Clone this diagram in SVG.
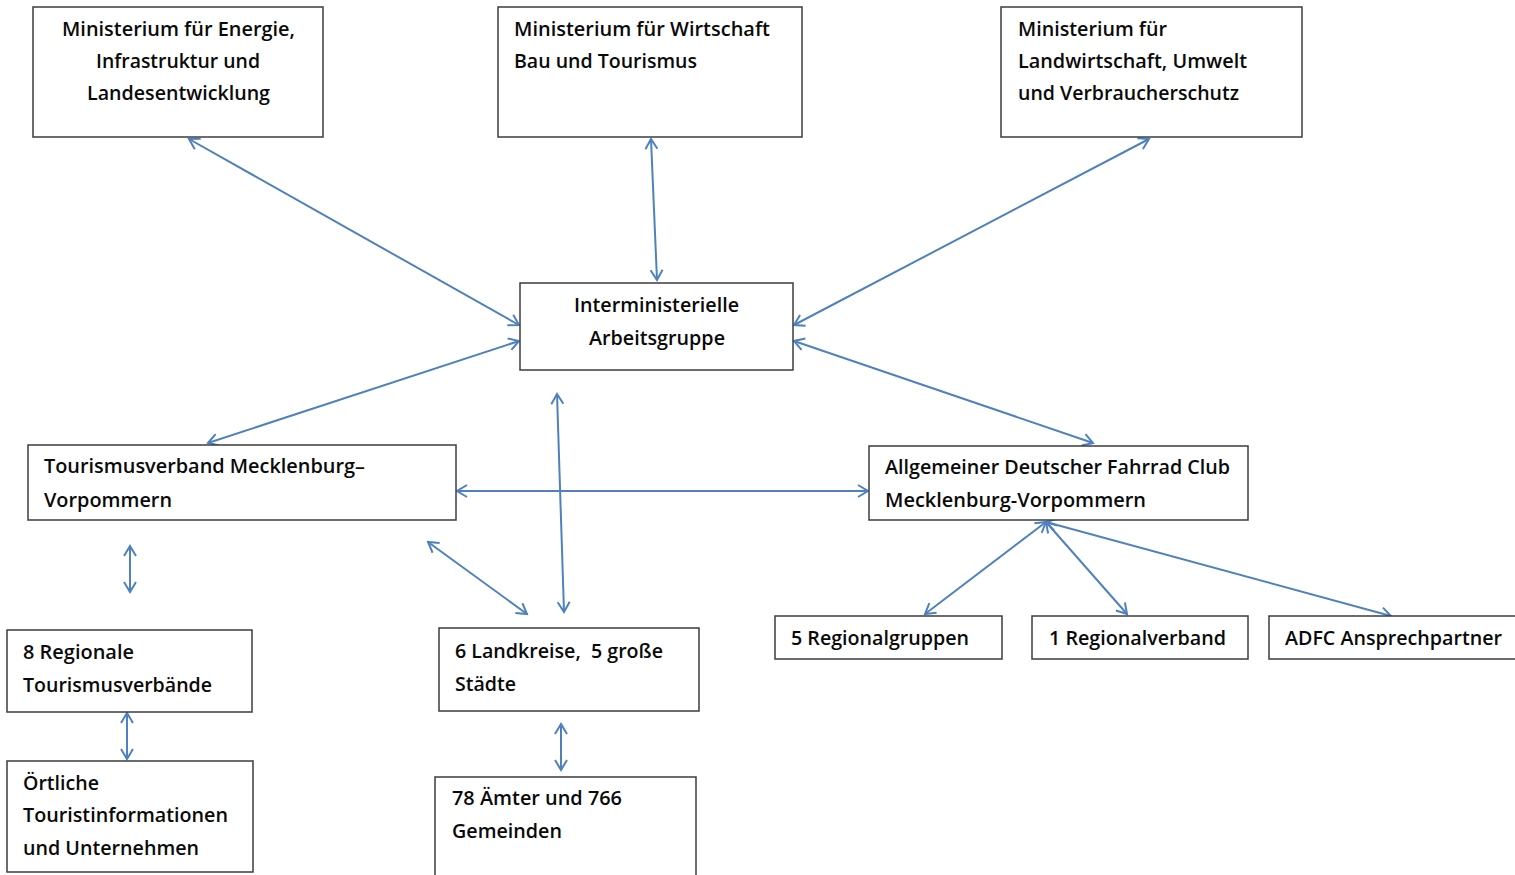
<svg xmlns="http://www.w3.org/2000/svg" width="1515" height="875" viewBox="0 0 1515 875">
<style>
.box{fill:#fff;stroke:#3c3c3c;stroke-width:1.5}
.t{font-family:"Open Sans","Liberation Sans",sans-serif;font-weight:600;font-size:19.5px;fill:#0a0a0a;white-space:pre}
.c{stroke:#4F81BD;stroke-width:2;fill:none;marker-start:url(#a);marker-end:url(#a)}
</style>
<defs>
<marker id="a" viewBox="-12 -8 14 16" markerWidth="14" markerHeight="16" refX="0" refY="0" orient="auto-start-reverse" markerUnits="userSpaceOnUse">
<path d="M-10,-6 L0,0 L-10,6" fill="none" stroke="#4F81BD" stroke-width="2"/>
</marker>
</defs>
<rect width="1515" height="875" fill="#fff"/>
<g id="connectors">
<line class="c" x1="189" y1="139" x2="519" y2="325"/>
<line class="c" x1="651" y1="139" x2="657" y2="280"/>
<line class="c" x1="1149" y1="139" x2="794" y2="325"/>
<line class="c" x1="208" y1="443" x2="519" y2="341"/>
<line class="c" x1="794" y1="341" x2="1093" y2="443"/>
<line class="c" x1="457" y1="491" x2="868" y2="491"/>
<line class="c" x1="557" y1="394" x2="564" y2="612"/>
<line class="c" x1="428" y1="542" x2="527" y2="614"/>
<line class="c" x1="130" y1="546" x2="130" y2="592"/>
<line class="c" x1="127" y1="713" x2="127" y2="759"/>
<line class="c" x1="561" y1="724" x2="561" y2="770"/>
<line class="c" x1="1046" y1="522" x2="925" y2="614"/>
<line class="c" x1="1046" y1="522" x2="1127" y2="614"/>
<line class="c" x1="1046" y1="522" x2="1391" y2="616"/>
</g>
<g id="n1"><rect class="box" x="33" y="7" width="290" height="130"/>
<text class="t" x="62" y="36" textLength="233" lengthAdjust="spacingAndGlyphs">Ministerium für Energie,</text>
<text class="t" x="96" y="68" textLength="164" lengthAdjust="spacingAndGlyphs">Infrastruktur und</text>
<text class="t" x="87" y="100" textLength="183" lengthAdjust="spacingAndGlyphs">Landesentwicklung</text></g>
<g id="n2"><rect class="box" x="498" y="7" width="304" height="130"/>
<text class="t" x="514" y="36" textLength="256" lengthAdjust="spacingAndGlyphs">Ministerium für Wirtschaft</text>
<text class="t" x="514" y="68" textLength="183" lengthAdjust="spacingAndGlyphs">Bau und Tourismus</text></g>
<g id="n3"><rect class="box" x="1001" y="7" width="301" height="130"/>
<text class="t" x="1018" y="36" textLength="149" lengthAdjust="spacingAndGlyphs">Ministerium für</text>
<text class="t" x="1018" y="68" textLength="229" lengthAdjust="spacingAndGlyphs">Landwirtschaft, Umwelt</text>
<text class="t" x="1018" y="100" textLength="221" lengthAdjust="spacingAndGlyphs">und Verbraucherschutz</text></g>
<g id="n4"><rect class="box" x="520" y="283" width="273" height="87"/>
<text class="t" x="574" y="312" textLength="165" lengthAdjust="spacingAndGlyphs">Interministerielle</text>
<text class="t" x="589" y="345" textLength="136" lengthAdjust="spacingAndGlyphs">Arbeitsgruppe</text></g>
<g id="n5"><rect class="box" x="28" y="445" width="428" height="75"/>
<text class="t" x="44" y="473" textLength="321" lengthAdjust="spacingAndGlyphs">Tourismusverband Mecklenburg–</text>
<text class="t" x="44" y="507" textLength="128" lengthAdjust="spacingAndGlyphs">Vorpommern</text></g>
<g id="n6"><rect class="box" x="869" y="446" width="379" height="74"/>
<text class="t" x="885" y="474" textLength="345" lengthAdjust="spacingAndGlyphs">Allgemeiner Deutscher Fahrrad Club</text>
<text class="t" x="885" y="507" textLength="261" lengthAdjust="spacingAndGlyphs">Mecklenburg-Vorpommern</text></g>
<g id="n7"><rect class="box" x="7" y="630" width="245" height="82"/>
<text class="t" x="23" y="659" textLength="111" lengthAdjust="spacingAndGlyphs">8 Regionale</text>
<text class="t" x="23" y="692" textLength="189" lengthAdjust="spacingAndGlyphs">Tourismusverbände</text></g>
<g id="n8"><rect class="box" x="7" y="761" width="246" height="111"/>
<text class="t" x="23" y="790" textLength="76" lengthAdjust="spacingAndGlyphs">Örtliche</text>
<text class="t" x="23" y="822" textLength="205" lengthAdjust="spacingAndGlyphs">Touristinformationen</text>
<text class="t" x="23" y="855" textLength="176" lengthAdjust="spacingAndGlyphs">und Unternehmen</text></g>
<g id="n9"><rect class="box" x="439" y="628" width="260" height="83"/>
<text class="t" x="455" y="658" textLength="208" lengthAdjust="spacingAndGlyphs" xml:space="preserve">6 Landkreise,  5 große</text>
<text class="t" x="455" y="691" textLength="61" lengthAdjust="spacingAndGlyphs">Städte</text></g>
<g id="n10"><rect class="box" x="435" y="777" width="261" height="110"/>
<text class="t" x="452" y="805" textLength="170" lengthAdjust="spacingAndGlyphs">78 Ämter und 766</text>
<text class="t" x="452" y="838" textLength="110" lengthAdjust="spacingAndGlyphs">Gemeinden</text></g>
<g id="n11"><rect class="box" x="775" y="616" width="227" height="43"/>
<text class="t" x="791" y="645" textLength="178" lengthAdjust="spacingAndGlyphs">5 Regionalgruppen</text></g>
<g id="n12"><rect class="box" x="1032" y="616" width="216" height="43"/>
<text class="t" x="1049" y="645" textLength="177" lengthAdjust="spacingAndGlyphs">1 Regionalverband</text></g>
<g id="n13"><rect class="box" x="1269" y="616" width="256" height="43"/>
<text class="t" x="1285" y="645" textLength="217" lengthAdjust="spacingAndGlyphs">ADFC Ansprechpartner</text></g>
</svg>
